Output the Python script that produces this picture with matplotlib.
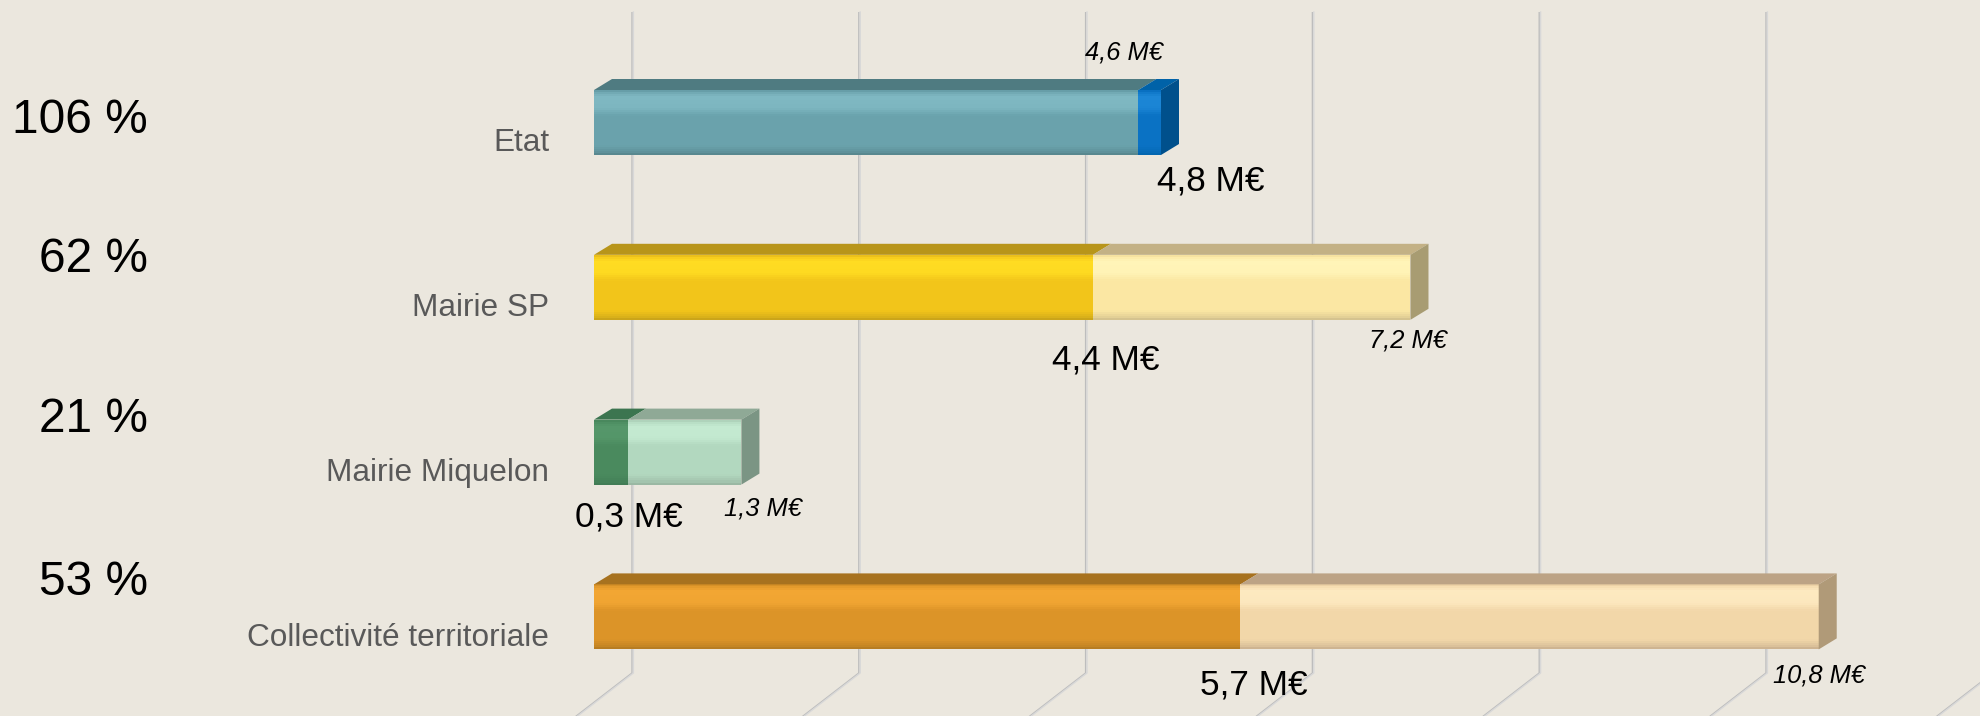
import matplotlib
matplotlib.use("Agg")
import matplotlib.pyplot as plt
from matplotlib.patches import Polygon
from matplotlib.colors import to_rgb
import numpy as np

# ---------------- data ----------------
categories = ["Etat", "Mairie SP", "Mairie Miquelon", "Collectivité territoriale"]
realized = [4.8, 4.4, 0.3, 5.7]          # M€ réalisé
budget = [4.6, 7.2, 1.3, 10.8]           # M€ budget
rate_labels = ["106 %", "62 %", "21 %", "53 %"]
realized_labels = ["4,8 M€", "4,4 M€", "0,3 M€", "5,7 M€"]
budget_labels = ["4,6 M€", "7,2 M€", "1,3 M€", "10,8 M€"]
grid_values = [0, 2, 4, 6, 8, 10, 12]

# ---------------- styles ----------------
plt.rcParams['font.family'] = ['Liberation Sans', 'DejaVu Sans']
W, H, DPI = 1980, 716, 100
X0, XS = 594, 113.4      # pixel of 0 M€, pixels per M€
Y0, YS = 122.5, 164.8    # pixel of first category centre, pixels per category
BG = "#EBE7DE"

# (front, highlight, top, side) for dark and light segment
styles = [
    (("#6AA2AC", "#7FB8C2", "#4F7B81", "#46707A"), ("#0A72C4", "#1C86D6", "#0062A8", "#00508C")),
    (("#F2C51A", "#FFDC22", "#B8951A", "#A88814"), ("#FBE7A3", "#FFF4B8", "#C3B185", "#A89C72")),
    (("#4A8A5E", "#55976A", "#3C7550", "#356846"), ("#B2D8BF", "#C4EAD1", "#8FA996", "#7B9584")),
    (("#DC9428", "#F2A633", "#A7721F", "#966619"), ("#F2D7A9", "#FDE9C0", "#BCA385", "#B09A78")),
]

fig = plt.figure(figsize=(W / DPI, H / DPI), dpi=DPI)
fig.patch.set_facecolor(BG)
ax = fig.add_axes([0, 0, 1, 1])
ax.set_facecolor(BG)
ax.set_xlim(-X0 / XS, (W - X0) / XS)
ax.set_ylim((H - Y0) / YS, -Y0 / YS)
ax.axis('off')


def py(p):
    return (p - Y0) / YS


def mix(c1, c2, t):
    a, b = np.array(to_rgb(c1)), np.array(to_rgb(c2))
    return tuple(a * (1 - t) + b * t)


# ---------------- back wall / floor grid ----------------
for v in grid_values:
    xb = v + 38 / XS
    xs = [xb, xb, xb - 112.7 / XS]
    ys = [py(12), py(673), py(760)]
    ax.plot(xs, ys, color="#BDBDBD", lw=1.0, zorder=1, solid_capstyle='butt')
    ax.plot([x + 1.4 / XS for x in xs], ys, color="#D8D8D8", lw=1.0, zorder=1)

# ---------------- 3D bars ----------------
h = 65 / YS
dx = 18 / XS
dy = 11 / YS
NS = 32
# shading profile over the front face (0 = top, 1 = bottom):
# positive -> towards highlight, negative -> towards the darker top colour
prof_t = [0.0, 0.04, 0.10, 0.28, 0.40, 0.85, 0.95, 1.0]
prof_v = [-0.35, 0.3, 1.0, 0.9, 0.0, 0.0, -0.4, -0.8]
for i in range(len(categories)):
    segs = [(0.0, realized[i], styles[i][0]),
            (realized[i], abs(budget[i] - realized[i]), styles[i][1])]
    top = i - h / 2
    bot = i + h / 2
    for k, (left, width, (front, hi, topc, side)) in enumerate(segs):
        for s in range(NS):
            t = (s + 0.5) / NS
            m = np.interp(t, prof_t, prof_v)
            col = mix(front, hi, m) if m >= 0 else mix(front, topc, -m)
            ax.barh(top + t * h, width, left=left, height=h / NS * 1.05, color=col,
                    zorder=3, linewidth=0)
        r = left + width
        ax.add_patch(Polygon([(left, top), (left + dx, top - dy), (r + dx, top - dy), (r, top)],
                             closed=True, facecolor=topc, edgecolor='none', zorder=3))
        if k == len(segs) - 1:
            ax.add_patch(Polygon([(r, top), (r + dx, top - dy), (r + dx, bot - dy), (r, bot)],
                                 closed=True, facecolor=side, edgecolor='none', zorder=3))

# ---------------- labels ----------------
pct_y = [116, 255, 415, 578]
for lab, yc in zip(rate_labels, pct_y):
    ax.text((148 - X0) / XS, py(yc + 17.2), lab, fontsize=34.5, color="black",
            ha='right', va='baseline', zorder=6)

for i, cat in enumerate(categories):
    ax.annotate(cat, xy=(0, i), xytext=(-45 * 0.72, -(17.5 + 11.3) * 0.72),
                textcoords='offset points', ha='right', va='baseline',
                fontsize=22.7, color="#595959", zorder=6)

real_off = [(72, 55.5), (13, 69.5), (1, 61.5), (13, 65)]
for i, (lab, (ox, oy)) in enumerate(zip(realized_labels, real_off)):
    ax.annotate(lab, xy=(realized[i], i), xytext=(ox * 0.72, -(oy + 12.6) * 0.72),
                textcoords='offset points', ha='center', va='baseline',
                fontsize=25.4, color="black", zorder=6)

bud_off = [(8, -72.5), (-3, 51.5), (22, 54.5), (0, 57)]
for i, (lab, (ox, oy)) in enumerate(zip(budget_labels, bud_off)):
    ax.annotate(lab, xy=(budget[i], i), xytext=(ox * 0.72, -(oy + 9.1) * 0.72),
                textcoords='offset points', ha='center', va='baseline',
                fontsize=18.4, style='italic', color="black", zorder=6)

fig.savefig("out.png", dpi=DPI, facecolor=BG)
